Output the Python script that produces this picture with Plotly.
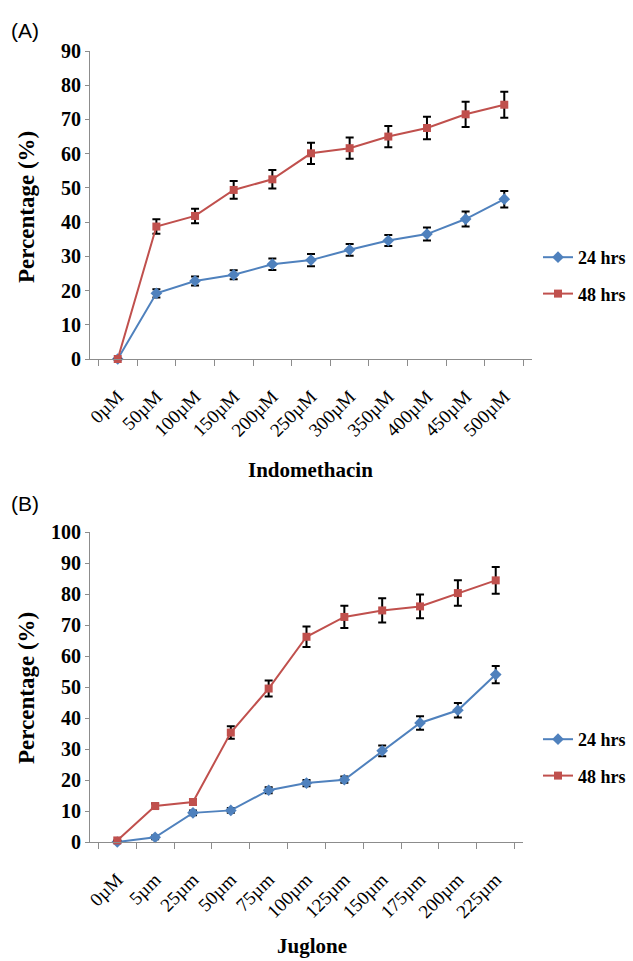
import plotly.graph_objects as go

# ---- Data ----
indo_labels = ["0µM", "50µM", "100µM", "150µM", "200µM", "250µM", "300µM", "350µM", "400µM", "450µM", "500µM"]
indo_24 = [0, 19.2, 22.8, 24.6, 27.7, 28.9, 31.9, 34.6, 36.5, 40.9, 46.7]
indo_24_err = [0, 1.2, 1.3, 1.3, 1.7, 1.8, 1.7, 1.6, 1.9, 2.2, 2.4]
indo_48 = [0, 38.7, 41.8, 49.4, 52.5, 60.1, 61.6, 65.0, 67.5, 71.5, 74.3]
indo_48_err = [0, 2.1, 2.1, 2.6, 2.7, 3.1, 3.1, 3.1, 3.3, 3.7, 3.8]

jug_labels = ["0µM", "5µm", "25µm", "50µm", "75µm", "100µm", "125µm", "150µm", "175µm", "200µm", "225µm"]
jug_24 = [0, 1.5, 9.4, 10.2, 16.7, 19.0, 20.1, 29.4, 38.4, 42.5, 54.0]
jug_24_err = [0, 0.6, 0.8, 0.8, 1.0, 1.0, 1.0, 1.7, 2.2, 2.3, 2.8]
jug_48 = [0.5, 11.6, 12.9, 35.3, 49.5, 66.2, 72.6, 74.7, 76.0, 80.3, 84.4]
jug_48_err = [0, 0.8, 1.0, 2.0, 2.6, 3.3, 3.6, 3.9, 3.8, 4.1, 4.3]

series_names = ["24 hrs", "48 hrs"]
BLUE = "#4F81BD"
RED = "#C0504D"

W, H = 633, 961
fig = go.Figure()

def px_x(p):
    return p / W

def px_y(p):
    return 1 - p / H

def add_series(x, y, err, name, color, symbol, xa, ya, legend):
    fig.add_trace(go.Scatter(
        x=x, y=y, name=name, mode="lines+markers",
        line=dict(color=color, width=2),
        marker=dict(color=color, symbol=symbol, size=8 if symbol == "square" else 9),
        error_y=dict(type="data", array=err, color="black", thickness=2, width=4, visible=True),
        xaxis=xa, yaxis=ya, legend=legend, legendgroup=legend + name,
        cliponaxis=False,
    ))

add_series(indo_labels, indo_24, indo_24_err, series_names[0], BLUE, "diamond", "x", "y", "legend")
add_series(indo_labels, indo_48, indo_48_err, series_names[1], RED, "square", "x", "y", "legend")
add_series(jug_labels, jug_24, jug_24_err, series_names[0], BLUE, "diamond", "x2", "y2", "legend2")
add_series(jug_labels, jug_48, jug_48_err, series_names[1], RED, "square", "x2", "y2", "legend2")

serif = "Liberation Serif"
axis_color = "#8c8c8c"

xcommon = dict(type="category", showgrid=False, showline=True, linecolor=axis_color, linewidth=1,
               ticks="outside", tickson="boundaries", ticklen=6, tickcolor=axis_color,
               tickangle=-45, tickfont=dict(family=serif, size=19, color="black"), zeroline=False,
               automargin=False, ticklabelstandoff=18)
ycommon = dict(showgrid=False, showline=True, linecolor=axis_color, linewidth=1,
               ticks="outside", ticklen=4, tickcolor=axis_color, dtick=10,
               tickfont=dict(family=serif, size=20, color="black", weight="bold"), zeroline=False,
               automargin=False)

legend_font = dict(family=serif, size=18, color="black", weight="bold")
fig.update_layout(
    width=W, height=H,
    margin=dict(l=0, r=0, t=0, b=0, autoexpand=False),
    paper_bgcolor="white", plot_bgcolor="white",
    xaxis=dict(domain=[px_x(90), px_x(532)], anchor="y", **xcommon),
    yaxis=dict(domain=[px_y(359), px_y(51)], anchor="x", range=[0, 90], **ycommon),
    xaxis2=dict(domain=[px_x(90), px_x(523)], anchor="y2", **xcommon),
    yaxis2=dict(domain=[px_y(842), px_y(532)], anchor="x2", range=[0, 100], **ycommon),
    legend=dict(x=px_x(538), y=px_y(239), xanchor="left", yanchor="top", font=legend_font,
                traceorder="grouped", tracegroupgap=10, bgcolor="rgba(0,0,0,0)"),
    legend2=dict(x=px_x(538), y=px_y(721), xanchor="left", yanchor="top", font=legend_font,
                 traceorder="grouped", tracegroupgap=10, bgcolor="rgba(0,0,0,0)"),
    showlegend=True,
)

ann_font_title = dict(family=serif, size=23, color="black", weight="bold")
annotations = [
    dict(text="(A)", x=px_x(9), y=px_y(31), xanchor="left", yanchor="middle",
         font=dict(family="Liberation Sans", size=21, color="black")),
    dict(text="(B)", x=px_x(9), y=px_y(503), xanchor="left", yanchor="middle",
         font=dict(family="Liberation Sans", size=21, color="black")),
    dict(text="Percentage (%)", x=px_x(26), y=px_y(207), textangle=-90,
         xanchor="center", yanchor="middle", font=ann_font_title),
    dict(text="Percentage (%)", x=px_x(26), y=px_y(688), textangle=-90,
         xanchor="center", yanchor="middle", font=ann_font_title),
    dict(text="Indomethacin", x=px_x(310), y=px_y(470), xanchor="center", yanchor="middle",
         font=dict(family=serif, size=21, color="black", weight="bold")),
    dict(text="Juglone", x=px_x(312), y=px_y(946), xanchor="center", yanchor="middle",
         font=dict(family=serif, size=21, color="black", weight="bold")),
]
for a in annotations:
    a.update(xref="paper", yref="paper", showarrow=False)
fig.update_layout(annotations=annotations)

fig.write_html(
    "out.html",
    config={"displayModeBar": False},
    post_script="document.body.style.margin='0px';document.body.style.overflow='hidden';",
)
